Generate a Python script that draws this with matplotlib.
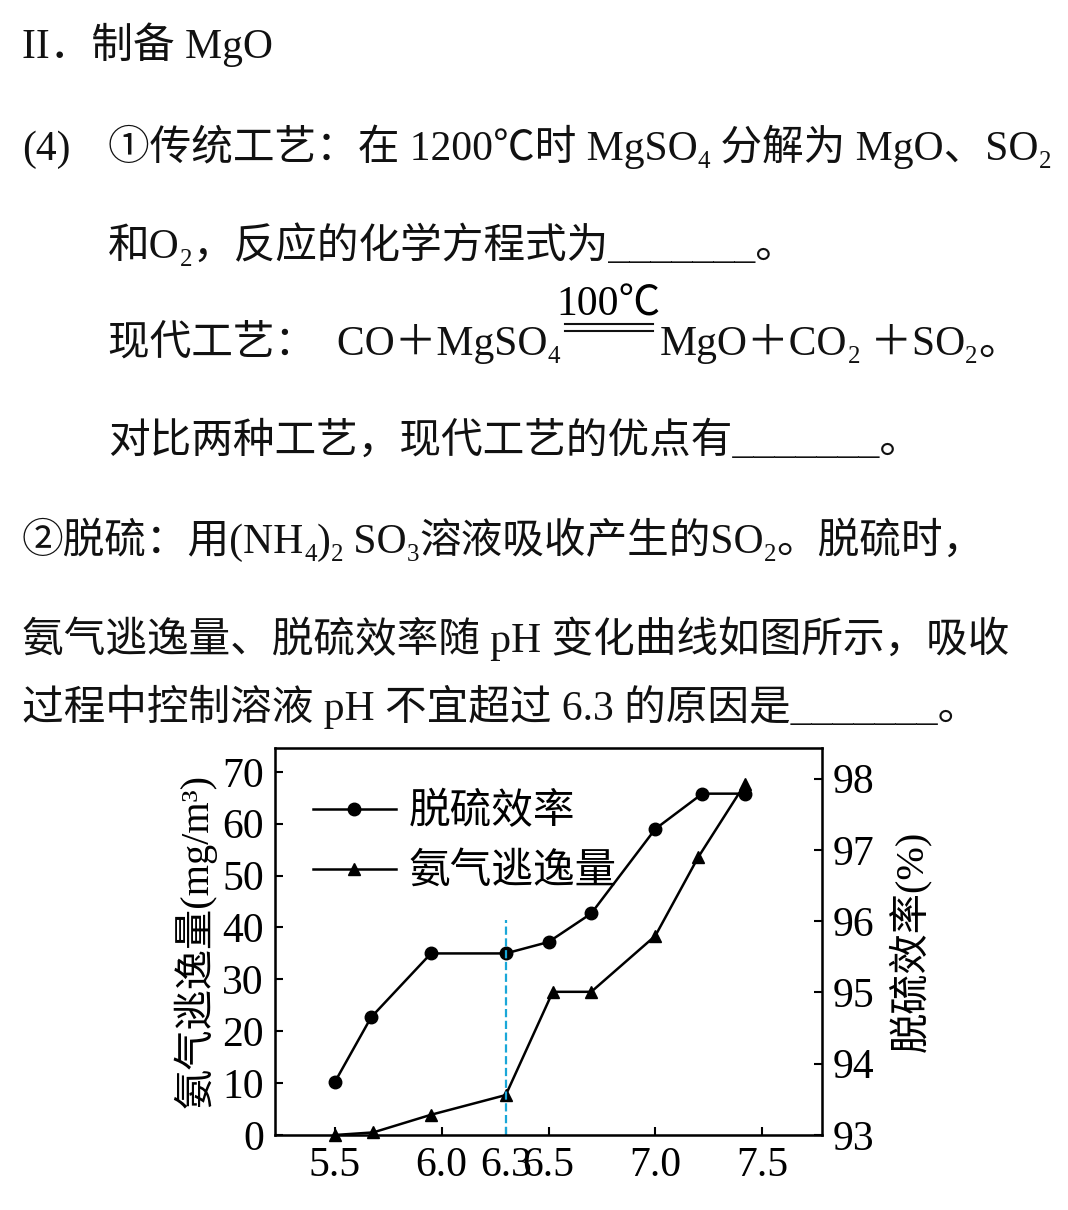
import matplotlib
matplotlib.use("Agg")
import matplotlib.pyplot as plt

W, H = 1068, 1210
FAM = ['Liberation Serif', 'Noto Sans CJK SC', 'DejaVu Sans']

# data
ph_eff = [5.5, 5.67, 5.95, 6.3, 6.5, 6.7, 7.0, 7.22, 7.42]
eff_left = [10.2, 22.7, 35.0, 35.0, 37.2, 42.7, 59.0, 65.8, 65.8]  # plotted on left scale
ph_nh3 = [5.5, 5.68, 5.95, 6.3, 6.52, 6.7, 7.0, 7.2, 7.42]
nh3 = [0.0, 0.5, 3.9, 7.7, 27.6, 27.6, 38.4, 53.5, 67.7]
xticks = [5.5, 6.0, 6.3, 6.5, 7.0, 7.5]
xticklabels = ['5.5', '6.0', '6.3', '6.5', '7.0', '7.5']
yticks_left = [0, 10, 20, 30, 40, 50, 60, 70]
yticks_right = [93, 94, 95, 96, 97, 98]

fig = plt.figure(figsize=(W / 100, H / 100), dpi=100)
fig.patch.set_facecolor('white')
renderer = fig.canvas.get_renderer()

FS = 30

def line(x, y, segs, fs=FS):
    for s, kind in segs:
        size = fs
        yy = y
        if kind == 's':
            size = fs * 0.6
            yy = y + 8
        t = fig.text(x / W, 1 - yy / H, s, fontsize=size, family=FAM,
                     va='baseline', ha='left', color='#111111')
        x += t.get_window_extent(renderer).width
    return x

n = lambda s: (s, 'n')
sb = lambda s: (s, 's')

line(22, 58, [n('II．制备 MgO')])
line(22, 160, [n('(4)')])
line(108, 160, [n('①传统工艺：在 1200℃时 MgSO'), sb('4'), n(' 分解为 MgO、SO'), sb('2')])
line(108, 258, [n('和O'), sb('2'), n('，反应的化学方程式为_______。')])
x = line(108, 355, [n('现代工艺：  CO＋MgSO'), sb('4')])
fig.text((x + 48) / W, 1 - 316 / H, '100℃', fontsize=FS, family=FAM, ha='center', va='baseline')
for yy in (324, 331):
    fig.add_artist(plt.Line2D([(x + 5) / W, (x + 93) / W], [1 - yy / H] * 2, color='#111111', lw=1.5))
line(x + 100, 355, [n('MgO＋CO'), sb('2'), n(' ＋SO'), sb('2'), n('。')])
line(108, 453, [n('对比两种工艺，现代工艺的优点有_______。')])
line(22, 553, [n('②脱硫：用(NH'), sb('4'), n(')'), sb('2'), n(' SO'), sb('3'), n('溶液吸收产生的SO'), sb('2'), n('。脱硫时，')])
line(22, 652, [n('氨气逃逸量、脱硫效率随 pH 变化曲线如图所示，吸收')])
line(22, 720, [n('过程中控制溶液 pH 不宜超过 6.3 的原因是_______。')])

# chart
ax = fig.add_axes([275 / W, 1 - 1135 / H, (822 - 275) / W, (1135 - 748) / H])
ax.set_xlim(5.22, 7.78)
ax.set_ylim(0, 74.6)
ax.plot(ph_eff, eff_left, '-o', color='black', lw=1.8, ms=9, label='脱硫效率', clip_on=False)
ax.plot(ph_nh3, nh3, '-^', color='black', lw=1.8, ms=9, label='氨气逃逸量', clip_on=False)
ax.plot([6.3, 6.3], [0, 41.5], '--', color='#1aa7d8', lw=1.6)
ax.set_xticks(xticks)
ax.set_xticklabels(xticklabels)
ax.set_yticks(yticks_left)
ax.tick_params(direction='in', length=6, width=1.5, labelsize=30, pad=8)
for lab in ax.get_xticklabels() + ax.get_yticklabels():
    lab.set_family(FAM)
for sp in ax.spines.values():
    sp.set_linewidth(1.8)
ax.set_ylabel('氨气逃逸量(mg/m³)', fontsize=29, family=FAM, labelpad=4)
leg = ax.legend(loc='upper left', frameon=False, prop={'family': FAM, 'size': 30},
                handlelength=2.0, bbox_to_anchor=(0.0, 0.98), labelspacing=0.5, handletextpad=0.3)

ax2 = ax.twinx()
ax2.set_ylim(93, 98.43)
ax2.set_yticks(yticks_right)
ax2.tick_params(direction='in', length=6, width=1.5, labelsize=30, pad=8)
for lab in ax2.get_yticklabels():
    lab.set_family(FAM)
ax2.set_ylabel('脱硫效率(%)', fontsize=29, family=FAM, labelpad=10)

fig.savefig('out.png', dpi=100)
